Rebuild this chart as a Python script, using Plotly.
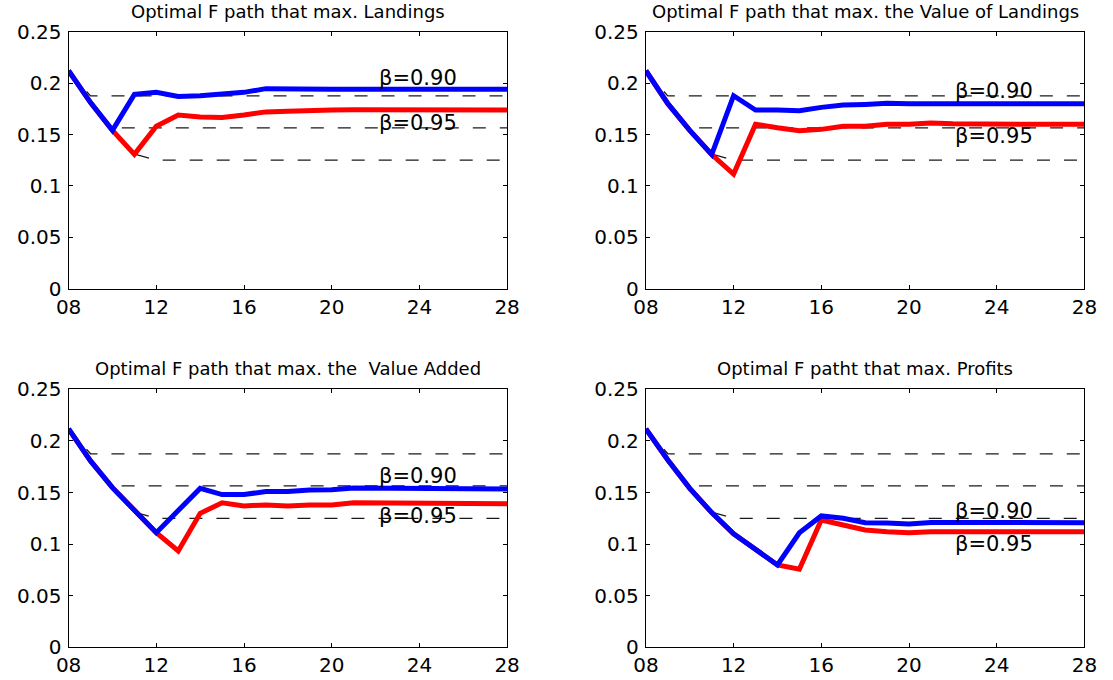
import plotly.graph_objects as go

# ---------------- data ----------------
YEARS = [8, 9, 10, 11, 12, 13, 14, 15, 16, 17, 18, 19, 20, 21, 22, 23, 24, 25, 26, 27, 28]
X_TICK_VALS = [8, 12, 16, 20, 24, 28]
X_TICK_TEXT = ["08", "12", "16", "20", "24", "28"]
Y_TICK_VALS = [0, 0.05, 0.1, 0.15, 0.2, 0.25]
Y_TICK_TEXT = ["0", "0.05", "0.1", "0.15", "0.2", "0.25"]

TITLES = [
    "Optimal F path that max. Landings",
    "Optimal F path that max. the Value of Landings",
    "Optimal F path that max. the  Value Added",
    "Optimal F patht that max. Profits",
]
SERIES_NAMES = ["β=0.90", "β=0.95"]

LANDINGS_B090 = [0.212, 0.181, 0.154, 0.189, 0.191, 0.187, 0.1877, 0.189, 0.191, 0.1946, 0.194,
                 0.1945, 0.1939, 0.1939, 0.1939, 0.1939, 0.1939, 0.1939, 0.1939, 0.1939, 0.1939]
LANDINGS_B095 = [0.212, 0.181, 0.154, 0.1307, 0.158, 0.169, 0.167, 0.1665, 0.169, 0.172, 0.1725,
                 0.1735, 0.1738, 0.174, 0.1738, 0.1738, 0.1738, 0.1738, 0.1738, 0.1738, 0.1738]

VALUE_LAND_B090 = [0.212, 0.180, 0.154, 0.1305, 0.1877, 0.1738, 0.1738, 0.1732, 0.1764, 0.1787, 0.1793,
                   0.1803, 0.180, 0.1803, 0.180, 0.180, 0.180, 0.180, 0.180, 0.180, 0.180]
VALUE_LAND_B095 = [0.212, 0.180, 0.154, 0.1305, 0.1115, 0.160, 0.1566, 0.1537, 0.155, 0.158, 0.158,
                   0.160, 0.160, 0.1612, 0.1605, 0.160, 0.160, 0.160, 0.160, 0.160, 0.160]

VALUE_ADDED_B090 = [0.2116, 0.1806, 0.1547, 0.132, 0.111, 0.1325, 0.154, 0.148, 0.148, 0.151, 0.151,
                    0.1525, 0.1527, 0.1544, 0.1544, 0.1536, 0.1534, 0.1534, 0.1534, 0.1534, 0.1534]
VALUE_ADDED_B095 = [0.2116, 0.1806, 0.1547, 0.132, 0.111, 0.0933, 0.1298, 0.140, 0.137, 0.138, 0.137,
                    0.138, 0.138, 0.140, 0.140, 0.1395, 0.139, 0.139, 0.139, 0.139, 0.139]

PROFITS_B090 = [0.2116, 0.1815, 0.154, 0.1305, 0.110, 0.0943, 0.0798, 0.111, 0.1273, 0.125, 0.1208,
                0.1205, 0.1195, 0.121, 0.1208, 0.1208, 0.1208, 0.1208, 0.1208, 0.1208, 0.1208]
PROFITS_B095 = [0.2116, 0.1815, 0.154, 0.1305, 0.110, 0.0943, 0.0798, 0.0756, 0.1234, 0.1185, 0.1137,
                0.112, 0.111, 0.112, 0.112, 0.112, 0.112, 0.112, 0.112, 0.112, 0.112]

# reference (dashed) paths
REF1_X = [8, 9, 28]
REF1_Y = [0.2115, 0.1875, 0.1875]
REF2_X = [8, 9, 10, 28]
REF2_Y = [0.2115, 0.181, 0.1565, 0.1565]
REF3_X = [8, 9, 10, 11, 12, 28]
REF3_Y = [0.2115, 0.181, 0.155, 0.131, 0.125, 0.125]

PANEL_B090 = [LANDINGS_B090, VALUE_LAND_B090, VALUE_ADDED_B090, PROFITS_B090]
PANEL_B095 = [LANDINGS_B095, VALUE_LAND_B095, VALUE_ADDED_B095, PROFITS_B095]

# ---------------- layout ----------------
W, H = 1113, 680
FONT = "DejaVu Sans"
DOM_X = [(68.6 / W, 507.1 / W), (645.9 / W, 1084.4 / W)]
DOM_Y = [(1 - 288.7 / H, 1 - 31.7 / H), (1 - 647.3 / H, 1 - 389.3 / H)]
TITLE_Y_PX = [11, 368]
LABEL_X = [22.05, 22.0, 22.05, 22.0]
LABEL_Y_090 = [0.2046, 0.1926, 0.166, 0.132]
LABEL_Y_095 = [0.1615, 0.1485, 0.127, 0.100]

fig = go.Figure()
layout = dict(
    width=W, height=H,
    margin=dict(l=0, r=0, t=0, b=0, autoexpand=False),
    paper_bgcolor="white", plot_bgcolor="white",
    showlegend=False,
    font=dict(family=FONT, color="black"),
    annotations=[],
)

for i in range(4):
    row, col = divmod(i, 2)
    n = i + 1
    xa = "x" if n == 1 else f"x{n}"
    ya = "y" if n == 1 else f"y{n}"
    for rx, ry in [(REF1_X, REF1_Y), (REF2_X, REF2_Y), (REF3_X, REF3_Y)]:
        fig.add_trace(go.Scatter(x=rx, y=ry, mode="lines", xaxis=xa, yaxis=ya,
                                 line=dict(color="#1a1a1a", width=1.3, dash="13px,14px"),
                                 hoverinfo="skip"))
    fig.add_trace(go.Scatter(x=YEARS, y=PANEL_B095[i], mode="lines", xaxis=xa, yaxis=ya,
                             name=SERIES_NAMES[1], line=dict(color="#ff0000", width=5)))
    fig.add_trace(go.Scatter(x=YEARS, y=PANEL_B090[i], mode="lines", xaxis=xa, yaxis=ya,
                             name=SERIES_NAMES[0], line=dict(color="#0000ff", width=5)))

    axkey_x = "xaxis" if n == 1 else f"xaxis{n}"
    axkey_y = "yaxis" if n == 1 else f"yaxis{n}"
    layout[axkey_x] = dict(
        domain=list(DOM_X[col]), anchor=ya, range=[8, 28],
        tickmode="array", tickvals=X_TICK_VALS, ticktext=X_TICK_TEXT,
        ticks="inside", ticklen=4, tickwidth=1, tickcolor="black",
        showline=True, linecolor="black", linewidth=1.3, mirror="ticks",
        showgrid=False, zeroline=False, ticklabelstandoff=0,
        tickfont=dict(family=FONT, size=20, color="black"),
    )
    layout[axkey_y] = dict(
        domain=list(DOM_Y[row]), anchor=xa, range=[0, 0.25],
        tickmode="array", tickvals=Y_TICK_VALS, ticktext=Y_TICK_TEXT,
        ticks="inside", ticklen=4, tickwidth=1, tickcolor="black",
        showline=True, linecolor="black", linewidth=1.3, mirror="ticks",
        showgrid=False, zeroline=False, ticklabelstandoff=2,
        tickfont=dict(family=FONT, size=20, color="black"),
    )
    cx = (DOM_X[col][0] + DOM_X[col][1]) / 2
    layout["annotations"].append(dict(
        text=TITLES[i], x=cx, y=1 - TITLE_Y_PX[row] / H, xref="paper", yref="paper",
        xanchor="center", yanchor="middle", showarrow=False,
        font=dict(family=FONT, size=18, color="black"),
    ))
    for lab, ly in [(SERIES_NAMES[0], LABEL_Y_090[i]), (SERIES_NAMES[1], LABEL_Y_095[i])]:
        layout["annotations"].append(dict(
            text=lab, x=LABEL_X[i], y=ly, xref=xa, yref=ya,
            xanchor="left", yanchor="middle", showarrow=False,
            font=dict(family=FONT, size=21, color="black"),
        ))

fig.update_layout(**layout)
fig.write_html("out.html")
